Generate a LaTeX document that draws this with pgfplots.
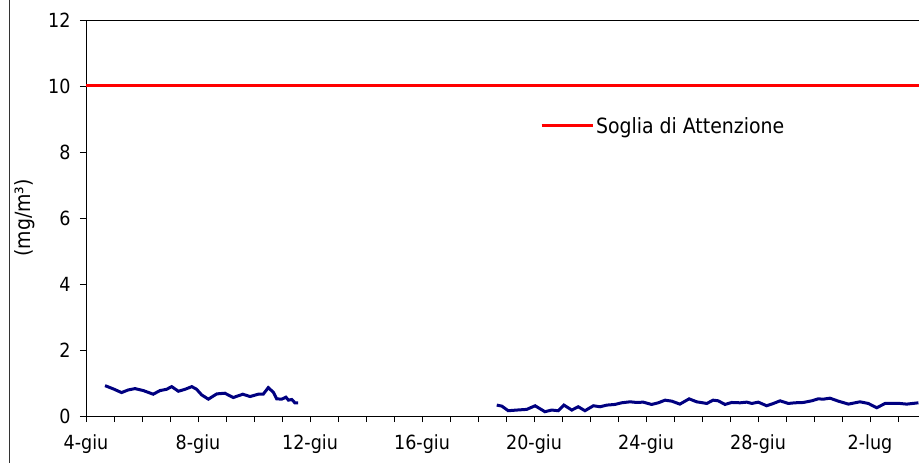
\documentclass[border=0pt]{standalone}
\usepackage{pgfplots}
\pgfplotsset{compat=1.18}
\usepackage{fontspec}
\setmainfont{DejaVu Sans Condensed}
\definecolor{navy}{RGB}{0,0,128}
\pgfplotstableread{
x y
0.68 0.92
0.98 0.82
1.27 0.71
1.51 0.79
1.75 0.83
2.05 0.77
2.40 0.66
2.64 0.77
2.88 0.81
3.06 0.89
3.30 0.75
3.54 0.81
3.78 0.89
3.95 0.81
4.13 0.64
4.37 0.51
4.67 0.67
4.96 0.69
5.26 0.56
5.60 0.66
5.86 0.59
6.15 0.66
6.33 0.66
6.51 0.86
6.69 0.72
6.81 0.52
6.99 0.51
7.14 0.57
7.23 0.48
7.35 0.50
7.46 0.40
7.58 0.40
}\serieA
\pgfplotstableread{
x y
14.67 0.33
14.85 0.30
15.08 0.16
15.38 0.18
15.74 0.20
16.04 0.31
16.39 0.13
16.63 0.18
16.87 0.16
17.07 0.33
17.35 0.18
17.58 0.28
17.82 0.16
18.12 0.31
18.36 0.28
18.60 0.33
18.89 0.35
19.13 0.40
19.43 0.43
19.67 0.41
19.90 0.42
20.20 0.35
20.44 0.40
20.68 0.48
20.92 0.45
21.21 0.36
21.54 0.52
21.81 0.43
22.17 0.38
22.40 0.48
22.58 0.46
22.82 0.35
23.06 0.41
23.36 0.40
23.60 0.42
23.78 0.38
24.01 0.42
24.31 0.31
24.55 0.38
24.79 0.46
25.08 0.38
25.32 0.40
25.62 0.41
25.92 0.46
26.15 0.52
26.33 0.51
26.57 0.54
26.87 0.45
27.23 0.36
27.64 0.43
27.94 0.38
28.24 0.25
28.54 0.38
29.07 0.38
29.31 0.36
29.73 0.40
}\serieB
\begin{document}
\begin{tikzpicture}
\useasboundingbox (-86pt,-47pt) rectangle (833pt,416pt);
\begin{axis}[
  scale only axis, width=833pt, height=396pt,
  at={(0pt,0pt)}, anchor=south west,
  xmin=0, xmax=29.75, ymin=0, ymax=12,
  axis x line*=bottom, axis y line*=left,
  axis line style={-, black, line width=0.8pt},
  xtick={0,4,...,28},
  xticklabels={4-giu,8-giu,12-giu,16-giu,20-giu,24-giu,28-giu,2-lug},
  minor xtick={1,...,29},
  ytick={0,2,...,12},
  tick align=outside,
  major tick length=6pt, minor tick length=6pt,
  tick style={black, line width=0.8pt},
  /pgf/number format/assume math mode=true,
  ticklabel style={font=\fontsize{19.5}{22}\selectfont},
  xticklabel style={yshift=-9pt},
  yticklabel style={xshift=-6pt},
  every axis y label/.style={at={(axis description cs:0,0.5)}, rotate=90, anchor=center, yshift=61pt, font=\fontsize{21}{24}\selectfont},
  ylabel={(mg/m³)},
  legend style={at={(axis cs:16.21,8.79)}, anchor=west, draw=none, fill=none, inner sep=0pt, font=\fontsize{21}{24}\selectfont},
  legend image code/.code={\draw[#1] (0pt,0pt) -- (51pt,0pt);},
]
\addplot[navy, line width=3pt, forget plot] table[x=x,y=y] {\serieA};
\addplot[navy, line width=3pt, forget plot] table[x=x,y=y] {\serieB};
\addplot[red, line width=3pt] coordinates {(0,10) (29.75,10)};
\addlegendentry{Soglia di Attenzione}
\end{axis}
\draw[black, line width=0.8pt] (0pt,396pt) -- (833pt,396pt);
\draw[black!80, line width=1pt] (-76pt,-47pt) -- (-76pt,416pt);
\end{tikzpicture}
\end{document}
